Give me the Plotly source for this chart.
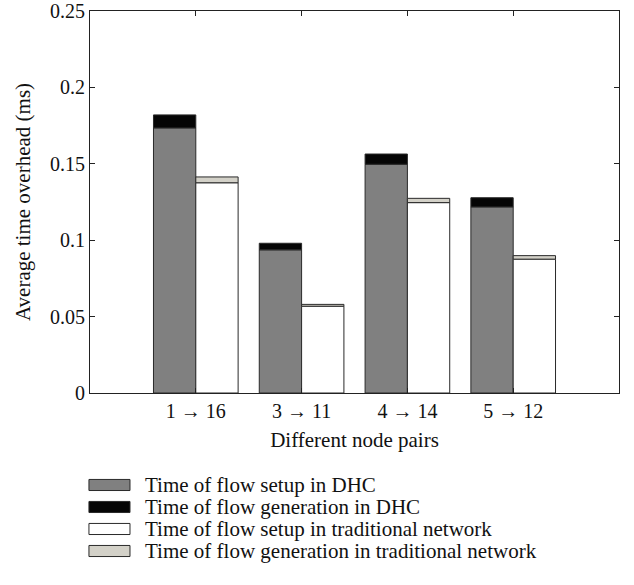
import plotly.graph_objects as go

categories = ["1 \u2192 16", "3 \u2192 11", "4 \u2192 14", "5 \u2192 12"]
dhc_setup = [0.1735, 0.0937, 0.1497, 0.1218]
dhc_gen = [0.0085, 0.0043, 0.0067, 0.0060]
trad_setup = [0.1376, 0.0568, 0.1246, 0.0876]
trad_gen = [0.0038, 0.0012, 0.0028, 0.0023]
series_names = [
    "Time of flow setup in DHC",
    "Time of flow generation in DHC",
    "Time of flow setup in traditional network",
    "Time of flow generation in traditional network",
]
colors = ["#808080", "#050505", "#ffffff", "#d3d1c8"]

xpos = list(range(1, len(categories) + 1))
FONT = "Liberation Serif"
line = dict(color="#2a2a2a", width=1)

fig = go.Figure()
fig.add_bar(x=xpos, y=dhc_setup, offset=-0.4, width=0.4, marker=dict(color=colors[0], line=line), name=series_names[0])
fig.add_bar(x=xpos, y=dhc_gen, base=dhc_setup, offset=-0.4, width=0.4, marker=dict(color=colors[1], line=line), name=series_names[1])
fig.add_bar(x=xpos, y=trad_setup, offset=0, width=0.4, marker=dict(color=colors[2], line=line), name=series_names[2])
fig.add_bar(x=xpos, y=trad_gen, base=trad_setup, offset=0, width=0.4, marker=dict(color=colors[3], line=line), name=series_names[3])

# custom legend below the plot
shapes = []
annotations = []
for i, (nm, c) in enumerate(zip(series_names, colors)):
    yc = -0.2408 - i * 0.0576
    shapes.append(dict(type="rect", xref="paper", yref="paper",
                       x0=-0.002, x1=0.0756, y0=yc - 0.0145, y1=yc + 0.0145,
                       fillcolor=c, line=dict(color="#2a2a2a", width=1)))
    annotations.append(dict(xref="paper", yref="paper", x=0.1, y=yc, text=nm,
                            showarrow=False, xanchor="left", yanchor="middle",
                            font=dict(family=FONT, size=21, color="#111")))

fig.update_layout(
    width=634, height=585,
    margin=dict(l=90, r=15, t=11, b=192),
    barmode="overlay",
    showlegend=False,
    plot_bgcolor="white", paper_bgcolor="white",
    font=dict(family=FONT, size=20, color="#111"),
    shapes=shapes, annotations=annotations,
    xaxis=dict(range=[0, 5], tickvals=xpos, ticktext=categories, automargin=False,
               showline=True, linecolor="#222", linewidth=1, mirror="ticks",
               ticks="inside", ticklen=5, tickcolor="#222", showgrid=False, zeroline=False,
               title=dict(text="Different node pairs", font=dict(family=FONT, size=21), standoff=11),
               tickfont=dict(family=FONT, size=20)),
    yaxis=dict(range=[0, 0.25], tickvals=[0, 0.05, 0.1, 0.15, 0.2, 0.25], automargin=False,
               ticktext=["0", "0.05", "0.1", "0.15", "0.2", "0.25"],
               showline=True, linecolor="#222", linewidth=1, mirror="ticks",
               ticks="inside", ticklen=5, tickcolor="#222", showgrid=False, zeroline=False,
               title=dict(text="Average time overhead (ms)", font=dict(family=FONT, size=21), standoff=13),
               tickfont=dict(family=FONT, size=20)),
)

fig.write_html("out.html", config={"displayModeBar": False})

# remove default page margin so the figure sits at the window origin
with open("out.html", "r", encoding="utf-8") as f:
    html = f.read()
html = html.replace("<head>", "<head><style>html,body{margin:0;padding:0;overflow:hidden;}</style>", 1)
with open("out.html", "w", encoding="utf-8") as f:
    f.write(html)
